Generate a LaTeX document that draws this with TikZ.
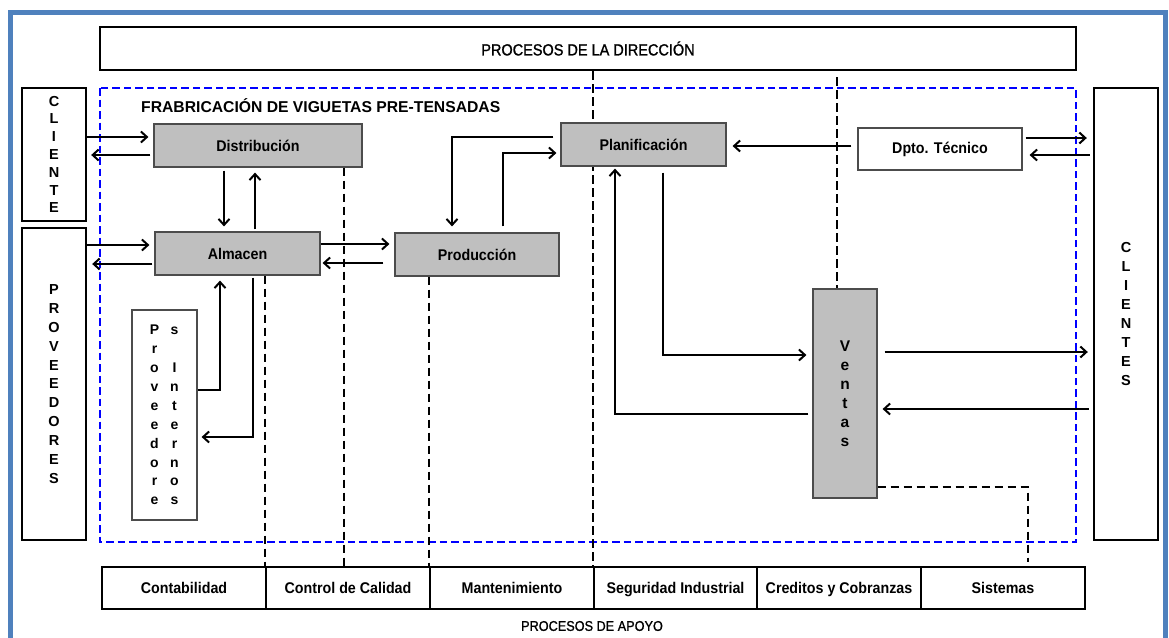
\documentclass[tikz,border=0pt]{standalone}
\usepackage{fontspec}
\setmainfont{Liberation Sans}
\newfontfamily\angosta[FakeStretch=0.92]{Liberation Sans}
\newfontfamily\titular[FakeStretch=0.9,FakeBold=1.2]{Liberation Sans}
\usetikzlibrary{arrows.meta,backgrounds}
\definecolor{azulmarco}{RGB}{79,129,189}

\begin{document}
\begin{tikzpicture}[
    x=1pt, y=-1pt, % coordenadas en pixeles, y hacia abajo
    % Cajas del proceso
    caja/.style={draw=black!70, fill=black!25, line width=1.2pt, inner sep=0pt,
        minimum height=43pt, font=\angosta\bfseries\fontsize{15.5}{18}\selectfont},
    externo/.style={draw, line width=2.4pt, inner sep=0pt, minimum width=64pt,
        align=center, font=\bfseries\fontsize{14.5}{18.9}\selectfont},
    apoyo/.style={draw, line width=2.4pt, inner sep=0pt, minimum width=164pt,
        minimum height=42pt, text height=12.5pt, text depth=2pt,
        font=\angosta\bfseries\fontsize{15.5}{18}\selectfont},
    % Lineas
    flecha/.style={line width=2pt, -{Straight Barb[length=6pt,width=11pt]}},
    guia/.style={line width=2pt, dash pattern=on 8.5pt off 4.5pt},
    zona/.style={draw=blue, line width=2pt, dash pattern=on 7.5pt off 4pt}
]
\useasboundingbox (0,0) rectangle (1169,637);
\draw[azulmarco, line width=5.5pt] (10.5,12.5) rectangle (1165.5,660);

% Direccion y apoyo
\node[draw, line width=2.4pt, minimum width=976pt, minimum height=43pt,
    font=\titular\fontsize{16.1}{19}\selectfont] (direccion) at (588,48.5) {PROCESOS DE LA DIRECCIÓN};
\node[apoyo] (conta) at (184,588) {Contabilidad};
\node[apoyo] (calidad) at (348,588) {Control de Calidad};
\node[apoyo] (manten) at (512,588) {Mantenimiento};
\node[apoyo, minimum width=163pt] (segur) at (675.5,588) {Seguridad Industrial};
\node[apoyo] (creditos) at (839,588) {Creditos y Cobranzas};
\node[apoyo] (sistemas) at (1003,588) {Sistemas};
\node[font=\titular\fontsize{14.1}{16}\selectfont] (apoyotxt) at (592,626) {PROCESOS DE APOYO};

% Entorno
\node[externo, minimum height=133pt, font=\bfseries\fontsize{14.5}{17.8}\selectfont]
    (cliente) at (54,154.5) {C\\L\\I\\E\\N\\T\\E};
\node[externo, minimum height=312pt] (proveedores) at (54,384) {P\\R\\O\\V\\E\\E\\D\\O\\R\\E\\S};
\node[externo, minimum height=452pt] (clientes) at (1126,314) {C\\L\\I\\E\\N\\T\\E\\S};

% Fabricacion
\node[anchor=west, inner sep=0pt, font=\bfseries\fontsize{15.7}{18}\selectfont] (fabrica) at (141,106)
    {FRABRICACIÓN DE VIGUETAS PRE-TENSADAS};
\node[caja, minimum width=208pt] (distribucion) at (258,145.5) {Distribución};
\node[caja, minimum width=165pt] (almacen) at (237.5,253.5) {Almacen};
\node[caja, minimum width=164pt] (produccion) at (477,254.5) {Producción};
\node[caja, minimum width=165pt] (planificacion) at (643.5,144.5) {Planificación};
\node[caja, fill=white, minimum width=164pt, minimum height=42pt] (dpto) at (940,149) {Dpto. Técnico};
\node[caja, minimum width=64pt, minimum height=209pt, align=center,
    font=\bfseries\fontsize{15.5}{19}\selectfont] (ventas) at (845,393.5) {V\\e\\n\\t\\a\\s};
\node[draw=black!70, line width=1.2pt, inner sep=0pt, minimum width=65pt, minimum height=210pt,
    align=center, font=\bfseries\fontsize{14}{18.9}\selectfont] (provint) at (164.5,415)
    {\makebox[20pt]{P}\makebox[20pt]{s}\\ \makebox[20pt]{r}\makebox[20pt]{}\\
     \makebox[20pt]{o}\makebox[20pt]{I}\\ \makebox[20pt]{v}\makebox[20pt]{n}\\
     \makebox[20pt]{e}\makebox[20pt]{t}\\ \makebox[20pt]{e}\makebox[20pt]{e}\\
     \makebox[20pt]{d}\makebox[20pt]{r}\\ \makebox[20pt]{o}\makebox[20pt]{n}\\
     \makebox[20pt]{r}\makebox[20pt]{o}\\ \makebox[20pt]{e}\makebox[20pt]{s}};

% Flechas
\draw[flecha, shorten >=5pt] (cliente.east |- 0,137) -- (distribucion.west |- 0,137);
\draw[flecha, shorten <=3pt, shorten >=4pt] (distribucion.west |- 0,155) -- (cliente.east |- 0,155);
\draw[flecha, shorten <=3pt, shorten >=5pt] (distribucion.south -| 224,0) -- (almacen.north -| 224,0);
\draw[flecha, shorten <=2pt, shorten >=5pt] (almacen.north -| 255,0) -- (distribucion.south -| 255,0);
\draw[flecha, shorten >=5pt] (proveedores.east |- 0,245) -- (almacen.west |- 0,245);
\draw[flecha, shorten <=2pt, shorten >=5pt] (almacen.west |- 0,264) -- (proveedores.east |- 0,264);
\draw[flecha, shorten >=5pt] (almacen.east |- 0,244) -- (produccion.west |- 0,244);
\draw[flecha, shorten <=11pt, shorten >=2pt] (produccion.west |- 0,263) -- (almacen.east |- 0,263);
\draw[flecha, shorten <=7pt, shorten >=6pt] (planificacion.west |- 0,137) -| (produccion.north -| 452,0);
\draw[flecha, shorten <=6pt, shorten >=4pt] (produccion.north -| 503,0) |- (planificacion.west |- 0,153);
\draw[flecha, shorten <=6pt, shorten >=6pt] (dpto.west |- 0,146) -- (planificacion.east |- 0,146);
\draw[flecha, shorten <=3pt, shorten >=6pt] (dpto.east |- 0,138) -- (clientes.west |- 0,138);
\draw[flecha, shorten <=3pt, shorten >=7pt] (clientes.west |- 0,155) -- (dpto.east |- 0,155);
\draw[flecha, shorten <=6pt, shorten >=6pt] (planificacion.south -| 663,0) |- (ventas.west |- 0,355);
\draw[flecha, shorten <=4pt, shorten >=2pt] (ventas.west |- 0,414) -| (planificacion.south -| 615,0);
\draw[flecha, shorten <=7pt, shorten >=5pt] (ventas.east |- 0,352) -- (clientes.west |- 0,352);
\draw[flecha, shorten <=4pt, shorten >=5pt] (clientes.west |- 0,409) -- (ventas.east |- 0,409);
\draw[flecha, shorten <=2pt, shorten >=4pt] (almacen.south -| 253,0) |- (provint.east |- 0,437);
\draw[flecha, shorten >=5pt] (provint.east |- 0,390) -| (almacen.south -| 220,0);

% Zona y lineas de apoyo, detras de las cajas
\begin{pgfonlayer}{background}
\draw[zona] (100,88) rectangle (1076,542);
\draw[guia] (direccion.south -| segur.north west) -- (segur.north west);
\draw[guia, shorten <=6pt] (direccion.south -| 837,0) -- (ventas.north -| 837,0);
\draw[guia] (distribucion.south -| 344,0) -- (calidad.north -| 344,0);
\draw[guia] (almacen.south -| calidad.north west) -- (calidad.north west);
\draw[guia] (produccion.south -| manten.north west) -- (manten.north west);
\draw[guia, shorten >=4pt] (ventas.east |- 0,487) -| (sistemas.north -| 1028,0);
\end{pgfonlayer}
\end{tikzpicture}
\end{document}
